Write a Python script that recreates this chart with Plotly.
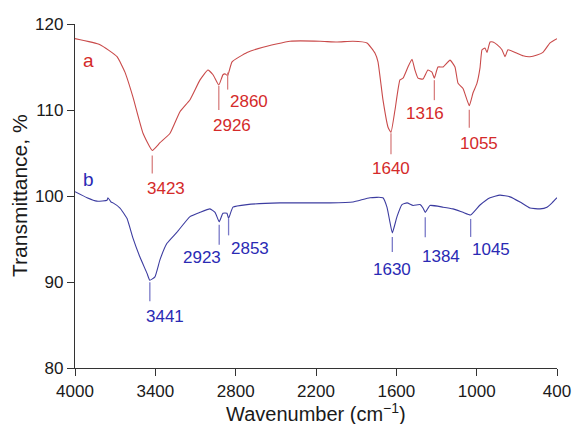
import plotly.graph_objects as go

# FTIR spectrum a
wn_a = [4000, 3813, 3686, 3627, 3567, 3492, 3423, 3365, 3290, 3216, 3141, 3066,
        3007, 2969, 2926, 2895, 2880, 2860, 2827, 2715, 2596, 2394, 2170, 2043,
        1924, 1819, 1759, 1737, 1700, 1662, 1640, 1610, 1573, 1550, 1513, 1483,
        1461, 1438, 1401, 1364, 1334, 1316, 1289, 1251, 1199, 1162, 1139, 1102,
        1055, 1027, 998, 975, 960, 938, 923, 900, 878, 848, 811, 788, 766, 699,
        654, 602, 549, 505, 452, 400]
tr_a = [118.3, 117.6, 116.2, 114.4, 111.5, 107.3, 105.3, 106.2, 107.3, 109.8, 111.2, 113.5,
        114.65, 114.1, 112.9, 114.1, 114.2, 114.0, 115.6, 116.7, 117.3, 118.0, 118.0, 117.9,
        118.0, 117.8, 116.6, 115.6, 111.2, 108.0, 107.4, 110.0, 113.5, 113.7, 115.0, 115.9,
        114.65, 113.7, 113.6, 114.65, 114.4, 113.7, 115.0, 115.0, 115.8, 115.0, 113.1, 112.5,
        110.5, 112.0, 113.1, 114.9, 117.0, 117.2, 116.7, 117.9, 117.9, 117.6, 117.0, 116.2,
        117.0, 116.6, 116.3, 116.2, 116.4, 116.7, 117.8, 118.3]

# FTIR spectrum b
wn_b = [4000, 3910, 3836, 3761, 3754, 3731, 3716, 3664, 3612, 3567, 3515, 3462,
        3441, 3403, 3365, 3313, 3238, 3141, 3066, 2992, 2954, 2923, 2895, 2865,
        2853, 2820, 2715, 2469, 2222, 2095, 1924, 1797, 1700, 1670, 1647, 1630,
        1595, 1558, 1520, 1475, 1423, 1401, 1384, 1349, 1251, 1177, 1102, 1045,
        975, 900, 826, 751, 676, 602, 527, 475, 437, 400]
tr_b = [100.5, 99.8, 99.4, 99.5, 99.8, 99.3, 99.2, 98.6, 97.4, 95.1, 92.9, 91.0,
        90.2, 90.6, 92.6, 94.5, 95.8, 97.6, 98.1, 98.5, 98.1, 97.0, 98.0, 98.0,
        97.4, 98.7, 99.0, 99.2, 99.2, 99.2, 99.3, 99.8, 99.8, 98.7, 96.9, 95.7,
        97.6, 99.0, 99.2, 98.9, 99.0, 98.6, 98.1, 98.9, 98.7, 98.5, 98.1, 97.8,
        98.95, 99.8, 100.1, 99.9, 99.3, 98.6, 98.5, 98.7, 99.2, 99.8]

# Assigned band positions (cm^-1)
peaks_a = [3423, 2926, 2860, 1640, 1316, 1055]
peaks_b = [3441, 2923, 2853, 1630, 1384, 1045]

x_ticks = [4000, 3400, 2800, 2200, 1600, 1000, 400]
y_ticks = [80, 90, 100, 110, 120]

# Marker placement in pixels: (stem gap, stem end, label drop, label x shift)
place_a = [(5, 23, 38, 14), (1, 25, 40, 13), (-3, 14, 26, 21),
           (1, 22, 36, 0), (2, 22, 35, -9), (4, 22, 38, 10)]
place_b = [(2, 21, 36, 15), (3, 23, 36, -17), (0, 17, 30, 21),
           (4, 19, 37, 0), (5, 25, 44, 16), (4, 22, 35, 20)]

LINE_A, TEXT_A, STEM_A = "#c94a4a", "#d42a2a", "#d88080"
LINE_B, TEXT_B, STEM_B = "#3c3ca0", "#2a2ab4", "#7a7ac8"
FONT = "Liberation Sans, Arial"

Y_MIN, Y_MAX = 80, 120
PLOT_H = 344  # px height of the plotting area
PX = (Y_MAX - Y_MIN) / PLOT_H

fig = go.Figure()
fig.add_trace(go.Scatter(x=wn_a, y=tr_a, mode="lines",
                         line=dict(color=LINE_A, width=1.1, shape="spline", smoothing=0.4),
                         hoverinfo="skip", showlegend=False))
fig.add_trace(go.Scatter(x=wn_b, y=tr_b, mode="lines",
                         line=dict(color=LINE_B, width=1.1, shape="spline", smoothing=0.4),
                         hoverinfo="skip", showlegend=False))


def mark_peaks(wn, tr, peaks, place, stem_color, text_color):
    for p, (g0, g1, drop, dx) in zip(peaks, place):
        t = tr[wn.index(p)]
        fig.add_shape(type="line", xref="x", yref="y",
                      x0=p, x1=p, y0=t - g0 * PX, y1=t - g1 * PX,
                      line=dict(color=stem_color, width=1.3))
        fig.add_annotation(x=p, y=t, text=str(p), showarrow=False,
                           xanchor="center", yanchor="middle",
                           xshift=dx, yshift=-drop,
                           font=dict(family=FONT, size=17, color=text_color))


mark_peaks(wn_a, tr_a, peaks_a, place_a, STEM_A, TEXT_A)
mark_peaks(wn_b, tr_b, peaks_b, place_b, STEM_B, TEXT_B)

# Series letters
fig.add_annotation(x=3900, y=tr_a[0], text="a", showarrow=False, yshift=-22,
                   font=dict(family=FONT, size=19, color=TEXT_A))
fig.add_annotation(x=3900, y=tr_b[0], text="b", showarrow=False, yshift=12,
                   font=dict(family=FONT, size=19, color=TEXT_B))

# Axis titles
fig.add_annotation(xref="paper", yref="paper", x=0.5, y=0, yshift=-44,
                   xanchor="center", yanchor="middle", showarrow=False,
                   text="Wavenumber (cm<sup>\u22121</sup>)",
                   font=dict(family=FONT, size=20, color="#1a1a1a"))
fig.add_annotation(xref="paper", yref="paper", x=0, y=0.5, xshift=-56,
                   xanchor="center", yanchor="middle", showarrow=False, textangle=-90,
                   text="Transmittance, %",
                   font=dict(family=FONT, size=21, color="#1a1a1a"))

axis_font = dict(family=FONT, size=17, color="#1a1a1a")
fig.update_layout(
    width=575, height=424,
    margin=dict(l=75, r=18, t=24, b=56),
    paper_bgcolor="white", plot_bgcolor="white",
    font=dict(family=FONT, color="#1a1a1a"),
    xaxis=dict(range=[4000, 400], tickvals=x_ticks, ticks="outside", ticklen=7,
               tickcolor="#333", showline=True, linecolor="#333", linewidth=1.3,
               showgrid=False, zeroline=False, tickfont=axis_font, automargin=False),
    yaxis=dict(range=[Y_MIN, Y_MAX], tickvals=y_ticks, ticks="outside", ticklen=7,
               tickcolor="#333", showline=True, linecolor="#333", linewidth=1.3,
               showgrid=False, zeroline=False, tickfont=axis_font, automargin=False),
)

fig.write_html("out.html")
